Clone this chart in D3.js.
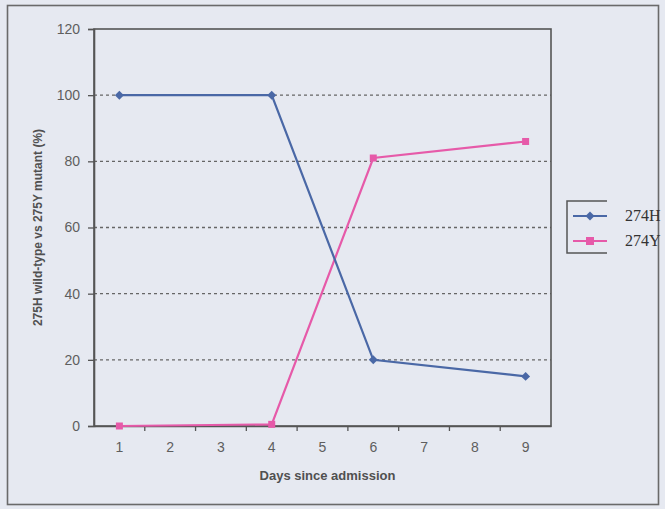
<!DOCTYPE html>
<html>
<head>
<meta charset="utf-8">
<script src="https://cdn.jsdelivr.net/npm/d3@7"></script>
<style>
  html, body { margin: 0; padding: 0; background: #e6e9f1; }
  svg { display: block; }
</style>
</head>
<body>
<div id="chart"></div>
<script>
const days = ['1', '2', '3', '4', '5', '6', '7', '8', '9'];
const yTicks = [0, 20, 40, 60, 80, 100, 120];

const dayH = ['1', '4', '6', '9'];
const valH = [100, 100, 20, 15];
const dayY = ['1', '4', '6', '9'];
const valY = [0, 0.5, 81, 86];

const seriesNames = ['274H', '274Y'];
const seriesColors = ['#4a68a6', '#e65aa9'];

const w = 665;
const h = 509;
const margin = { left: 94, right: 114, top: 29, bottom: 83 };

const svg = d3.select('#chart')
    .append('svg')
    .attr('width', w)
    .attr('height', h);

svg.append('rect')
    .attr('width', w)
    .attr('height', h)
    .attr('fill', '#e6e9f1');

// outer frame
svg.append('rect')
    .attr('x', 7.5)
    .attr('y', 5.5)
    .attr('width', 651)
    .attr('height', 499)
    .attr('fill', 'none')
    .attr('stroke', '#6a6a6a')
    .attr('stroke-width', 1.6);

const x = d3.scaleBand()
    .domain(days)
    .range([margin.left, w - margin.right]);

const y = d3.scaleLinear()
    .domain([0, 120])
    .range([h - margin.bottom, margin.top]);

// gridlines
svg.append('g')
    .selectAll('line')
    .data(yTicks.filter(d => d > 0 && d < 120))
    .enter()
    .append('line')
    .attr('x1', margin.left)
    .attr('x2', w - margin.right)
    .attr('y1', d => y(d))
    .attr('y2', d => y(d))
    .attr('stroke', '#666')
    .attr('stroke-width', 1.3)
    .attr('stroke-dasharray', '3,3');

// plot frame
svg.append('rect')
    .attr('x', margin.left)
    .attr('y', margin.top)
    .attr('width', w - margin.left - margin.right)
    .attr('height', h - margin.top - margin.bottom)
    .attr('fill', 'none')
    .attr('stroke', '#555')
    .attr('stroke-width', 1.6);

const yAxis = svg.append('g')
    .attr('transform', `translate(${margin.left},0)`)
    .call(d3.axisLeft(y).tickValues(yTicks).tickSize(6).tickPadding(8));

const xAxis = svg.append('g')
    .attr('transform', `translate(0,${h - margin.bottom})`)
    .call(d3.axisBottom(x).tickSize(0).tickPadding(16));

// tick marks at category boundaries
xAxis.selectAll('.bound')
    .data(days.slice(1))
    .enter()
    .append('line')
    .attr('class', 'bound')
    .attr('x1', d => x(d))
    .attr('x2', d => x(d))
    .attr('y1', 0)
    .attr('y2', 5)
    .attr('stroke', '#555')
    .attr('stroke-width', 1.3);

[yAxis, xAxis].forEach(ax => {
    ax.select('.domain').attr('stroke', '#555').attr('stroke-width', 1.6);
    ax.selectAll('.tick line').attr('stroke', '#555').attr('stroke-width', 1.3);
    ax.selectAll('.tick text')
        .attr('fill', '#5e5e5e')
        .style('font-family', 'Liberation Sans, Arial, sans-serif')
        .style('font-size', '14px');
});

const cx = d => x(d) + x.bandwidth() / 2;

const line = d3.line()
    .x(d => cx(d[0]))
    .y(d => y(d[1]));

const ptsH = dayH.map((d, i) => [d, valH[i]]);
const ptsY = dayY.map((d, i) => [d, valY[i]]);

svg.append('path')
    .datum(ptsY)
    .attr('d', line)
    .attr('fill', 'none')
    .attr('stroke', seriesColors[1])
    .attr('stroke-width', 2.2);

svg.append('path')
    .datum(ptsH)
    .attr('d', line)
    .attr('fill', 'none')
    .attr('stroke', seriesColors[0])
    .attr('stroke-width', 2.2);

svg.append('g')
    .selectAll('rect')
    .data(ptsY)
    .enter()
    .append('rect')
    .attr('x', d => cx(d[0]) - 3.5)
    .attr('y', d => y(d[1]) - 3.5)
    .attr('width', 7)
    .attr('height', 7)
    .attr('fill', seriesColors[1]);

// square rotated 45deg as the diamond marker
const diamond = d3.symbol().type(d3.symbolSquare).size(40);

svg.append('g')
    .selectAll('path')
    .data(ptsH)
    .enter()
    .append('path')
    .attr('d', diamond)
    .attr('transform', d => `translate(${cx(d[0])},${y(d[1])}) rotate(45)`)
    .attr('fill', seriesColors[0]);

// axis titles
svg.append('text')
    .attr('x', (margin.left + w - margin.right) / 2 + 5)
    .attr('y', 480)
    .attr('text-anchor', 'middle')
    .attr('fill', '#505050')
    .style('font-family', 'Liberation Sans, Arial, sans-serif')
    .style('font-weight', 'bold')
    .style('font-size', '13px')
    .text('Days since admission');

svg.append('text')
    .attr('transform', `translate(42,${(margin.top + h - margin.bottom) / 2}) rotate(-90)`)
    .attr('text-anchor', 'middle')
    .attr('fill', '#505050')
    .style('font-family', 'Liberation Sans, Arial, sans-serif')
    .style('font-weight', 'bold')
    .style('font-size', '12px')
    .text('275H wild-type vs 275Y mutant (%)');

// legend
const lg = svg.append('g');
lg.append('path')
    .attr('d', 'M607,201H567V253H607')
    .attr('fill', 'none')
    .attr('stroke', '#555')
    .attr('stroke-width', 1.5);

seriesNames.forEach((name, i) => {
    const ly = 216 + i * 25;
    lg.append('line')
        .attr('x1', 573).attr('x2', 607)
        .attr('y1', ly).attr('y2', ly)
        .attr('stroke', seriesColors[i])
        .attr('stroke-width', 2);
    if (i === 0) {
        lg.append('path')
            .attr('d', diamond)
            .attr('transform', `translate(590,${ly}) rotate(45)`)
            .attr('fill', seriesColors[i]);
    } else {
        lg.append('rect')
            .attr('x', 586).attr('y', ly - 4)
            .attr('width', 8).attr('height', 8)
            .attr('fill', seriesColors[i]);
    }
    lg.append('text')
        .attr('x', 625)
        .attr('y', ly + 5)
        .attr('fill', '#333')
        .style('font-family', 'Liberation Serif, Times New Roman, serif')
        .style('font-size', '16px')
        .text(name);
});
</script>
</body>
</html>
